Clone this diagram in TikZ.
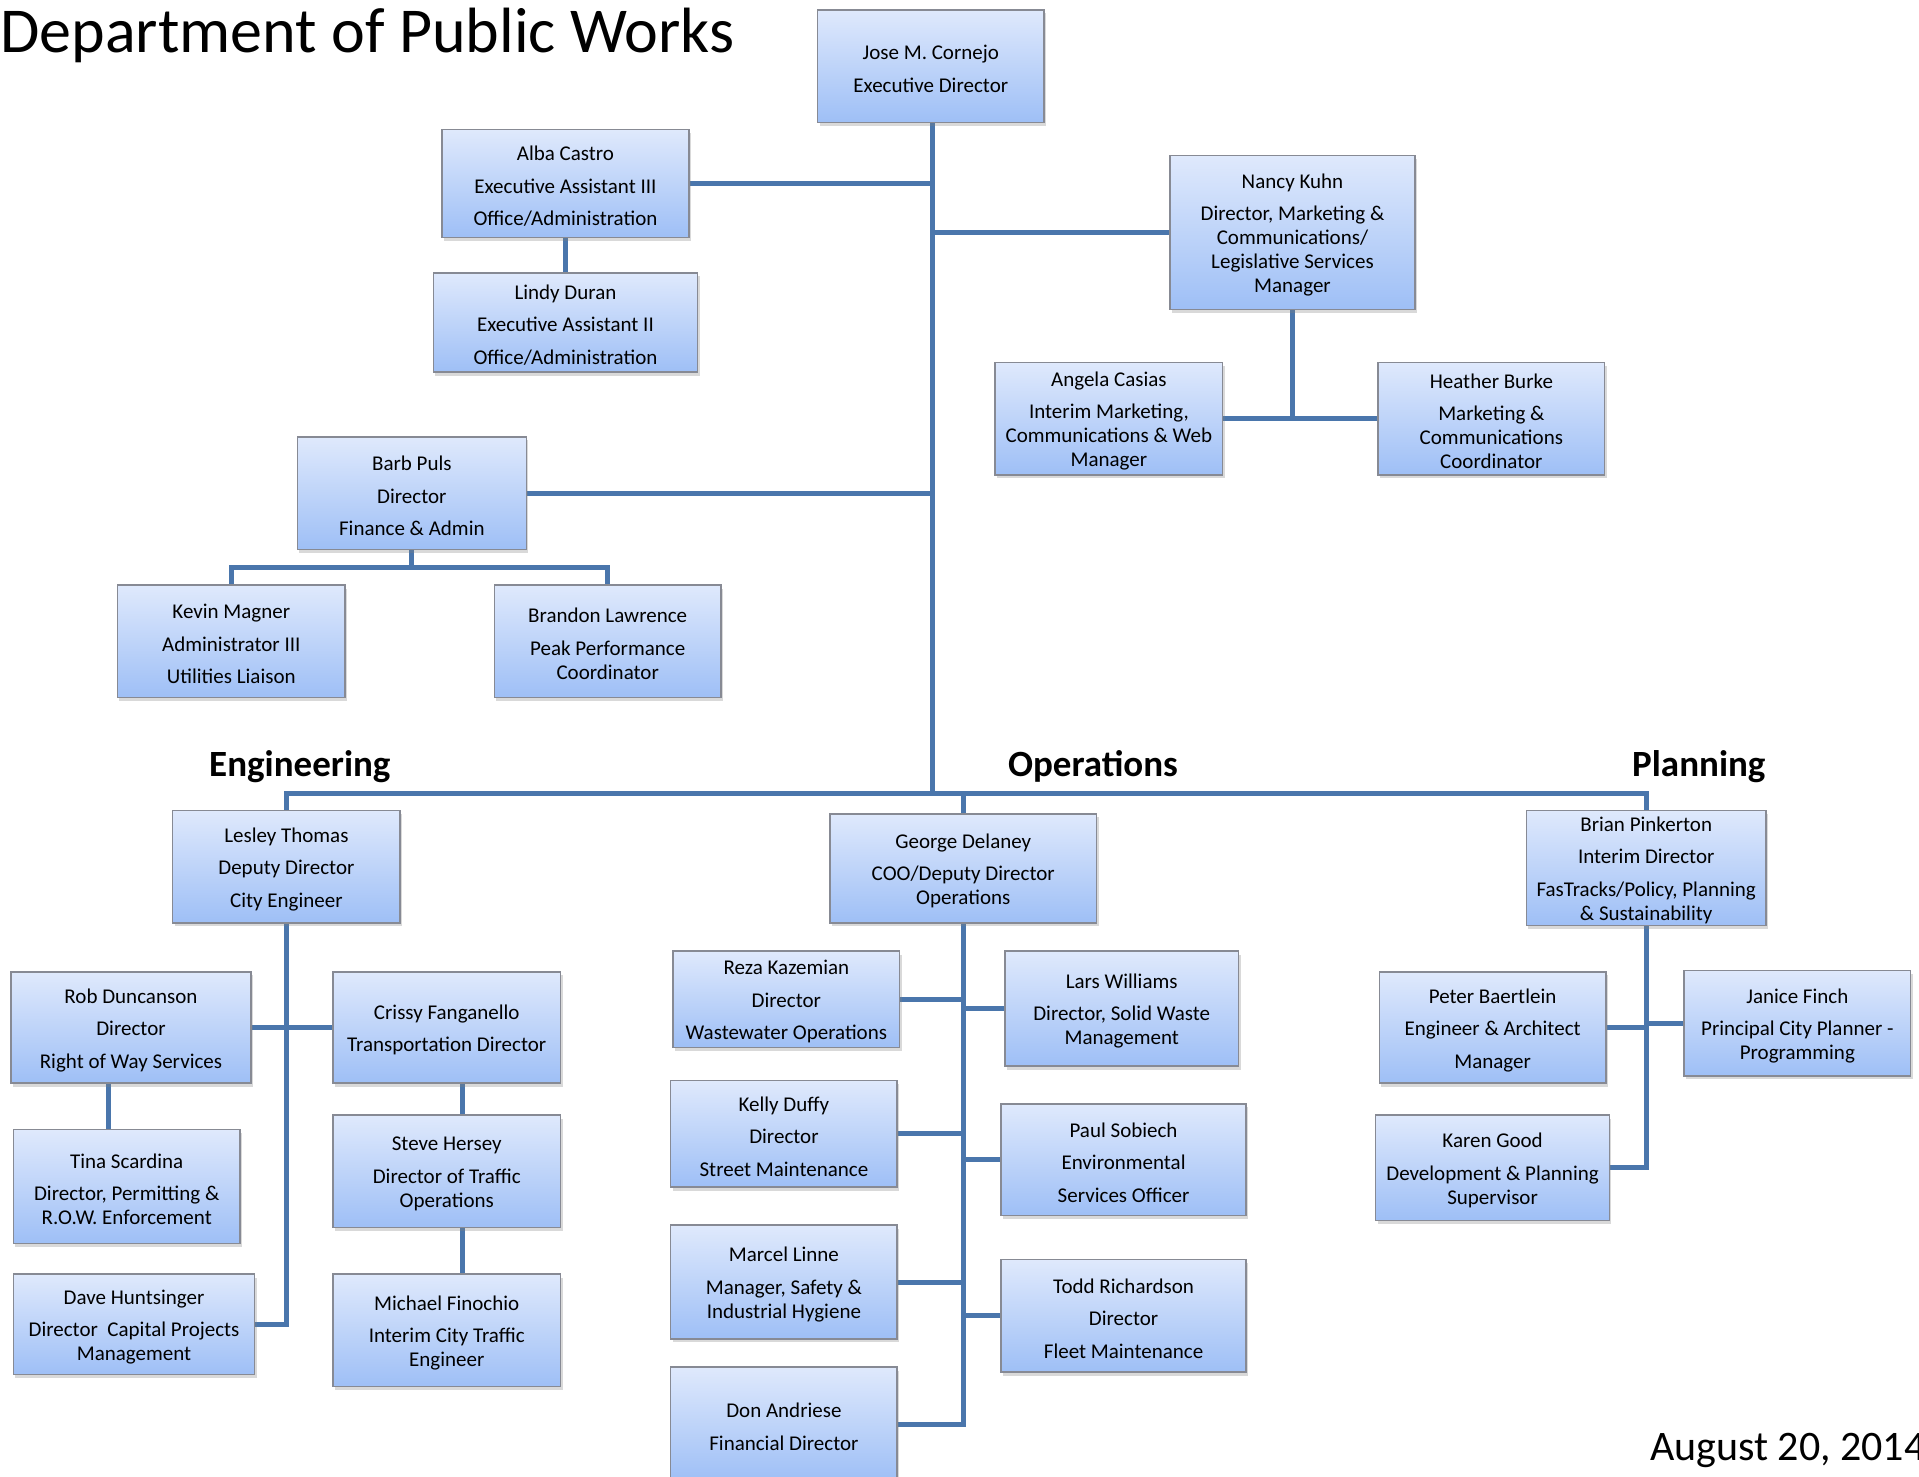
\documentclass[tikz,border=0pt]{standalone}
\usepackage{fontspec}
\setmainfont{Carlito}
\usetikzlibrary{shadows,backgrounds}
\definecolor{connc}{RGB}{74,118,172}
\definecolor{boxtop}{RGB}{223,233,252}
\definecolor{boxbot}{RGB}{158,191,246}
\definecolor{boxdraw}{RGB}{135,138,148}
\def\pxs{1.2239}
\newcommand\bigbr{\\[8.5pt]}
\newcommand\obox[6]{%
  \pgfmathsetmacro\bw{(#4-#2)*\pxs}%
  \pgfmathsetmacro\bh{(#5-#3)*\pxs}%
  \node[obox, minimum width=\bw pt, minimum height=\bh pt] (#1) at ({(#2+#4)/2},{(#3+#5)/2}) {};
  \node[btext] (#1-t) at ([yshift=-2.6pt]#1.center) {#6};}
\tikzset{
  obox/.style={draw=boxdraw, line width=1.5pt, top color=boxtop, bottom color=boxbot,
    inner sep=0pt,
    drop shadow={opacity=0.3, shadow xshift=2pt, shadow yshift=-3.5pt}},
  btext/.style={align=center, inner sep=0pt, font=\fontsize{21}{24}\selectfont},
  conn/.style={draw=connc, line width=5pt},
  sect/.style={font=\fontsize{37}{40}\selectfont\bfseries, inner sep=0pt},
}
\begin{document}
\begin{tikzpicture}[x=1.2239pt, y=-1.2239pt]
\path[use as bounding box] (0,0) rectangle (1567.9,1206);
\clip (0,0) rectangle (1567.9,1206);

\node[anchor=base west, inner sep=0pt, font=\fontsize{64}{70}\selectfont] (title) at (0,43) {Department of Public Works};
\node[anchor=base west, inner sep=0pt, font=\fontsize{42}{46}\selectfont] (date) at (1348,1193) {August 20, 2014};

\node[sect] (eng) at (245,626) {Engineering};
\node[sect] (ops) at (893,626) {Operations};
\node[sect] (plan) at (1388,626) {Planning};

\obox{jose}{668}{8}{853}{100}{Jose M. Cornejo\bigbr Executive Director}
\obox{alba}{361}{106}{563}{194}{Alba Castro\bigbr Executive Assistant III\bigbr Office/Administration}
\obox{lindy}{354}{223}{570}{304}{Lindy Duran\bigbr Executive Assistant II\bigbr Office/Administration}
\obox{nancy}{956}{127}{1156}{253}{Nancy Kuhn\bigbr Director, Marketing \&\\ Communications/\\ Legislative Services\\ Manager}
\obox{angela}{813}{296}{999}{388}{Angela Casias\bigbr Interim Marketing,\\ Communications \& Web\\ Manager}
\obox{heather}{1126}{296}{1311}{388}{Heather Burke\bigbr Marketing \&\\ Communications\\ Coordinator}
\obox{barb}{243}{357}{430}{449}{Barb Puls\bigbr Director\bigbr Finance \& Admin}
\obox{kevin}{96}{478}{282}{570}{Kevin Magner\bigbr Administrator III\bigbr Utilities Liaison}
\obox{brandon}{404}{478}{589}{570}{Brandon Lawrence\bigbr Peak Performance\\ Coordinator}
\obox{lesley}{141}{662}{327}{754}{Lesley Thomas\bigbr Deputy Director\bigbr City Engineer}
\obox{george}{678}{665}{896}{754}{George Delaney\bigbr COO/Deputy Director\\ Operations}
\obox{brian}{1247}{662}{1443}{756}{Brian Pinkerton\bigbr Interim Director\bigbr FasTracks/Policy, Planning\\ \& Sustainability}
\obox{rob}{9}{794}{205}{885}{Rob Duncanson\bigbr Director\bigbr Right of Way Services}
\obox{crissy}{272}{794}{458}{885}{Crissy Fanganello\bigbr Transportation Director}
\obox{tina}{11}{923}{196}{1016}{Tina Scardina\bigbr Director, Permitting \&\\ R.O.W. Enforcement}
\obox{steve}{272}{911}{458}{1003}{Steve Hersey\bigbr Director of Traffic\\ Operations}
\obox{dave}{11}{1041}{208}{1123}{Dave Huntsinger\bigbr Director\ \ Capital Projects\\ Management}
\obox{michael}{272}{1041}{458}{1133}{Michael Finochio\bigbr Interim City Traffic\\ Engineer}
\obox{reza}{550}{777}{735}{856}{Reza Kazemian\bigbr Director\bigbr Wastewater Operations}
\obox{lars}{821}{777}{1012}{871}{Lars Williams\bigbr Director, Solid Waste\\ Management}
\obox{kelly}{548}{883}{733}{970}{Kelly Duffy\bigbr Director\bigbr Street Maintenance}
\obox{paul}{818}{902}{1018}{993}{Paul Sobiech\bigbr Environmental\bigbr Services Officer}
\obox{marcel}{548}{1001}{733}{1094}{Marcel Linne\bigbr Manager, Safety \&\\ Industrial Hygiene}
\obox{todd}{818}{1029}{1018}{1121}{Todd Richardson\bigbr Director\bigbr Fleet Maintenance}
\obox{don}{548}{1117}{733}{1210}{Don Andriese\bigbr Financial Director}
\obox{peter}{1127}{794}{1312}{885}{Peter Baertlein\bigbr Engineer \& Architect\bigbr Manager}
\obox{janice}{1376}{793}{1561}{879}{Janice Finch\bigbr Principal City Planner -\\ Programming}
\obox{karen}{1124}{911}{1315}{997}{Karen Good\bigbr Development \& Planning\\ Supervisor}

\coordinate (bus) at (0,648);
\coordinate (bbar) at (0,464);
\coordinate (rt) at (89,0);
\coordinate (ct) at (378,0);
\coordinate (tr) at (762,0);

\begin{pgfonlayer}{background}
% executive trunk
\draw[conn] (jose.south -| tr) -- (bus -| tr);
\draw[conn] (alba.east) -- (alba.east -| tr);
\draw[conn] (alba.south) -- (lindy.north);
\draw[conn] (nancy.west) -- (nancy.west -| tr);
\draw[conn] (nancy.south) -- (nancy.south |- angela.east);
\draw[conn] (angela.east) -- (heather.west);
\draw[conn] (barb.east) -- (barb.east -| tr);
\draw[conn] (barb.south) -- (barb.south |- bbar);
\draw[conn] (kevin.north) -- (kevin.north |- bbar) -- (brandon.north |- bbar) -- (brandon.north);
% division bus
\draw[conn] (lesley.north) -- (lesley.north |- bus) -- (brian.north |- bus) -- (brian.north);
\draw[conn] (george.north) -- (george.north |- bus);
% engineering
\draw[conn] (lesley.south) -- (lesley.south |- dave.east) -- (dave.east);
\draw[conn] (rob.east) -- (crissy.west);
\draw[conn] (rob.south -| rt) -- (tina.north -| rt);
\draw[conn] (crissy.south -| ct) -- (steve.north -| ct);
\draw[conn] (steve.south -| ct) -- (michael.north -| ct);
% operations
\draw[conn] (george.south) -- (george.south |- don.east) -- (don.east);
\draw[conn] (reza.east) -- (reza.east -| george.south);
\draw[conn] (kelly.east) -- (kelly.east -| george.south);
\draw[conn] (marcel.east) -- (marcel.east -| george.south);
\draw[conn] (lars.west) -- (lars.west -| george.south);
\draw[conn] (paul.west) -- (paul.west -| george.south);
\draw[conn] (todd.west) -- (todd.west -| george.south);
% planning
\draw[conn] (brian.south) -- (brian.south |- karen.east) -- (karen.east);
\draw[conn] (peter.east) -- (peter.east -| brian.south);
\draw[conn] (janice.west) -- (janice.west -| brian.south);
\end{pgfonlayer}
\end{tikzpicture}
\end{document}
